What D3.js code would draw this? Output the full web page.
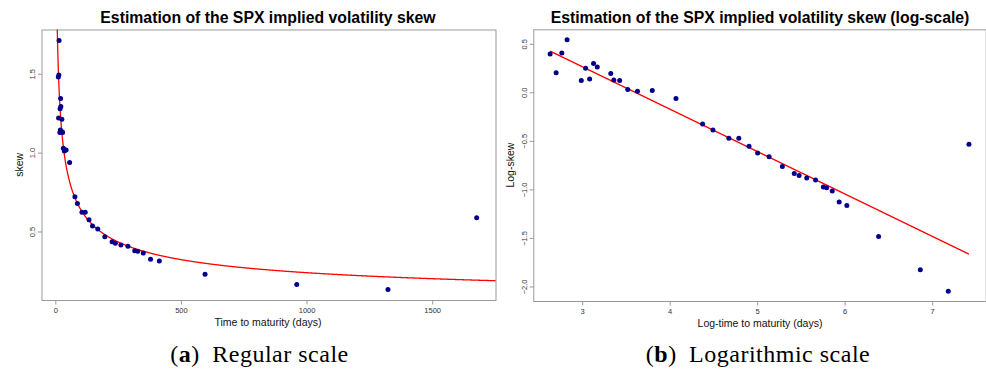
<!DOCTYPE html>
<html lang="en">
<head>
    <meta charset="UTF-8">
    <title>SPX implied volatility skew</title>
    <script src="https://d3js.org/d3.v7.min.js"></script>
    <style>
        body {
            margin: 0;
            padding: 0;
            background: #fff;
        }
        svg text {
            font-family: "Liberation Sans", Arial, sans-serif;
        }
        .title {
            font-weight: bold;
            font-size: 15.8px;
            fill: #000;
        }
        .axis-title {
            font-size: 10.5px;
            fill: #111;
        }
        .axis text {
            font-size: 7.5px;
            fill: #333;
        }
        .axis path, .axis line {
            stroke: #999;
        }
        .caption {
            font-family: "Liberation Serif", "Times New Roman", serif;
            font-size: 24px;
            letter-spacing: 0.5px;
            fill: #000;
        }
    </style>
</head>
<body>
    <svg width="986" height="374"></svg>

    <script>
        // time to maturity (days) and estimated ATM skew
        const days = [14, 15, 16, 17, 20, 21, 22, 23, 24, 28, 29, 31, 34, 38, 45, 59,
                      80, 90, 108, 121, 136, 150, 171, 199, 228, 241, 263, 291, 318, 330,
                      352, 381, 416, 598, 963, 1326, 1679];
        const skew = [1.476, 1.217, 1.490, 1.709, 1.125, 1.276, 1.140, 1.340, 1.290, 1.209,
                      1.129, 1.125, 1.025, 1.007, 1.014, 0.934, 0.717, 0.674, 0.619, 0.619,
                      0.571, 0.532, 0.512, 0.463, 0.431, 0.422, 0.411, 0.403, 0.375, 0.372,
                      0.360, 0.321, 0.310, 0.225, 0.160, 0.128, 0.583];

        // power-law fit: skew = fitA * T^fitB
        const fitA = 4.82;
        const fitB = -0.437;

        const xTicksA = [0, 500, 1000, 1500];
        const yTicksA = [0.5, 1.0, 1.5];
        const xTicksB = [3, 4, 5, 6, 7];
        const yTicksB = [-2.0, -1.5, -1.0, -0.5, 0.0, 0.5];

        const points = days.map((d, i) => ({ t: d, s: skew[i] }));

        const svg = d3.select("svg");
        svg.append("rect").attr("width", 986).attr("height", 374).attr("fill", "#fff");

        function panel(opts) {
            const g = svg.append("g");
            const [x0, x1] = opts.x.range();
            const [y0, y1] = opts.y.range();

            const clipId = "clip-" + opts.id;
            g.append("clipPath").attr("id", clipId)
                .append("rect")
                .attr("x", x0).attr("y", y1)
                .attr("width", x1 - x0).attr("height", y0 - y1);

            // box
            g.append("rect")
                .attr("x", x0 + 0.5).attr("y", y1 + 0.5)
                .attr("width", x1 - x0).attr("height", y0 - y1)
                .attr("fill", "none")
                .attr("stroke", "#999");

            const xAxis = g.append("g")
                .attr("class", "axis")
                .attr("transform", `translate(0.5,${y0 + 0.5})`)
                .call(d3.axisBottom(opts.x).tickValues(opts.xTicks).tickSize(4).tickFormat(opts.xFmt));
            xAxis.select(".domain").remove();
            xAxis.selectAll("text").attr("y", 12).attr("dy", 0);

            const yAxis = g.append("g")
                .attr("class", "axis")
                .attr("transform", `translate(${x0 + 0.5},0.5)`)
                .call(d3.axisLeft(opts.y).tickValues(opts.yTicks).tickSize(4).tickFormat(d3.format(".1f")));
            yAxis.select(".domain").remove();
            yAxis.selectAll("text")
                .attr("transform", "rotate(-90)")
                .attr("x", 0)
                .attr("y", -7)
                .attr("dy", 0)
                .style("text-anchor", "middle");

            // titles
            g.append("text").attr("class", "title")
                .attr("x", opts.titleX).attr("y", 23)
                .attr("text-anchor", "middle")
                .text(opts.title);
            g.append("text").attr("class", "axis-title")
                .attr("x", opts.xTitleX).attr("y", y0 + 26)
                .attr("text-anchor", "middle")
                .text(opts.xTitle);
            g.append("text").attr("class", "axis-title")
                .attr("transform", `translate(${opts.yTitleX},${(y0 + y1) / 2}) rotate(-90)`)
                .attr("text-anchor", "middle")
                .text(opts.yTitle);

            const plot = g.append("g").attr("clip-path", `url(#${clipId})`);

            plot.append("path")
                .datum(opts.fit)
                .attr("fill", "none")
                .attr("stroke", "#ff0000")
                .attr("stroke-width", 1.3)
                .attr("d", d3.line().x(d => opts.x(d[0])).y(d => opts.y(d[1])));

            plot.selectAll("circle")
                .data(points)
                .enter()
                .append("circle")
                .attr("cx", d => opts.x(opts.px(d)))
                .attr("cy", d => opts.y(opts.py(d)))
                .attr("r", 2.5)
                .attr("fill", "#00008b");
        }

        // (a) regular scale
        const xA = d3.scaleLinear().domain([-53, 1754]).range([41.5, 495.5]);
        const yA = d3.scaleLinear().domain([0.062, 1.778]).range([300, 29.5]);
        const curveA = d3.range(1, 1800, 1).map(t => [t, fitA * Math.pow(t, fitB)]);

        panel({
            id: "a", x: xA, y: yA,
            xTicks: xTicksA, yTicks: yTicksA, xFmt: d3.format("d"),
            title: "Estimation of the SPX implied volatility skew", titleX: 268,
            xTitle: "Time to maturity (days)", xTitleX: 268,
            yTitle: "skew", yTitleX: 23,
            fit: curveA,
            px: d => d.t, py: d => d.s
        });

        // (b) log-log scale
        const xB = d3.scaleLinear().domain([2.447, 7.6175]).range([533.3, 985.7]);
        const yB = d3.scaleLinear().domain([-2.155, 0.644]).range([301, 29.3]);
        const lt = d3.extent(days, d => Math.log(d));
        const lineB = lt.map(v => [v, Math.log(fitA) + fitB * v]);

        panel({
            id: "b", x: xB, y: yB,
            xTicks: xTicksB, yTicks: yTicksB, xFmt: d3.format("d"),
            title: "Estimation of the SPX implied volatility skew (log-scale)", titleX: 760,
            xTitle: "Log-time to maturity (days)", xTitleX: 760,
            yTitle: "Log-skew", yTitleX: 514,
            fit: lineB,
            px: d => Math.log(d.t), py: d => Math.log(d.s)
        });

        // sub-figure captions
        const captions = [
            { x: 259.5, label: "a", text: "Regular scale" },
            { x: 758, label: "b", text: "Logarithmic scale" }
        ];
        captions.forEach(c => {
            const t = svg.append("text").attr("class", "caption")
                .attr("x", c.x).attr("y", 362)
                .attr("text-anchor", "middle");
            t.append("tspan").text("(");
            t.append("tspan").attr("font-weight", "bold").text(c.label);
            t.append("tspan").text(")\u2002" + c.text);
        });
    </script>
</body>
</html>
